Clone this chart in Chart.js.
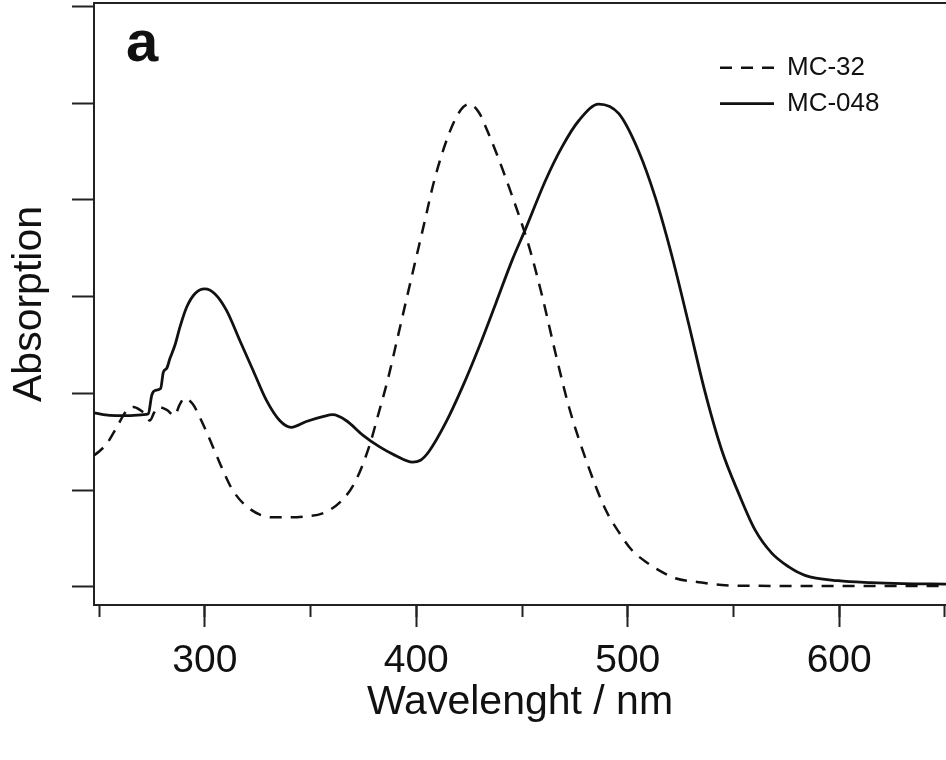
<!DOCTYPE html>
<html>
<head>
<meta charset="utf-8">
<script src="https://cdn.jsdelivr.net/npm/chart.js@4.4.1/dist/chart.umd.min.js"></script>
<style>
  html, body { margin: 0; padding: 0; background: #fff; }
  #wrap { width: 946px; height: 760px; }
</style>
</head>
<body>
<div id="wrap"><canvas id="absChart"></canvas></div>
<script>
// spectra (wavelength in nm, absorption in tick units)
var mc32Wl = [247.6, 250, 253.6, 258.3, 263, 266.2, 269.3, 272, 274, 276, 278, 282, 285.7, 288, 290.4, 294.3,
  299, 303.8, 308.5, 313.2, 321.1, 332.1, 340, 347.8, 355.7, 365.1, 371.4, 377.7, 382.5, 386.5, 391.2, 398.2,
  403.8, 408.5, 415.6, 421.1, 425, 429.7, 433.5, 437.6, 444.7, 453.3, 459.6, 465.9, 472.2, 480.8, 489.5, 496, 502,
  509.9, 514.6, 522.5, 533.5, 544.5, 560, 590, 650.5];
var mc32Abs = [1.36, 1.40, 1.48, 1.65, 1.82, 1.86, 1.83, 1.78, 1.72, 1.80, 1.86, 1.83, 1.77, 1.88, 1.95, 1.89,
  1.69, 1.45, 1.21, 1.00, 0.81, 0.72, 0.72, 0.73, 0.76, 0.90, 1.10, 1.45, 1.82, 2.14, 2.58, 3.24,
  3.76, 4.20, 4.69, 4.93, 4.99, 4.90, 4.72, 4.50, 4.08, 3.52, 3.00, 2.41, 1.86, 1.28, 0.80, 0.56, 0.38,
  0.24, 0.175, 0.09, 0.05, 0.02, 0.012, 0.01, 0.01];

var mc048Wl = [247.6, 252, 258, 265, 271, 273.3, 274.9, 276.4, 279.1, 280.4, 282, 283.5, 285.9, 288.3, 291.4, 295.3,
  300, 304.7, 310.2, 316.5, 322.8, 329.1, 335.4, 340.9, 348, 355.8, 360.5, 366.8, 374.7, 382.5, 390, 398.2,
  402, 406, 414, 421.9, 429.7, 437.6, 445.4, 451.7, 461.1, 469, 476.9, 486.3, 495.8, 505.2, 513.1,
  520.9, 528.8, 536.6, 544.5, 552.4, 560.2, 568.1, 576, 583.8, 599.5, 615, 630, 650.5];
var mc048Abs = [1.80, 1.78, 1.77, 1.77, 1.78, 1.79, 1.98, 2.03, 2.05, 2.22, 2.26, 2.36, 2.50, 2.69, 2.89, 3.03,
  3.08, 3.03, 2.86, 2.55, 2.24, 1.93, 1.72, 1.65, 1.71, 1.76, 1.78, 1.72, 1.57, 1.45, 1.36, 1.29,
  1.31, 1.40, 1.70, 2.07, 2.48, 2.93, 3.38, 3.70, 4.20, 4.55, 4.82, 4.99, 4.89, 4.50, 4.02,
  3.42, 2.72, 2.01, 1.41, 0.97, 0.59, 0.35, 0.21, 0.12, 0.065, 0.045, 0.035, 0.03];

var xMajorTicks = [300, 400, 500, 600];
var xMinorTicks = [250, 300, 350, 400, 450, 500, 550, 600, 650];
var yTicks = [0, 1, 2, 3, 4, 5, 6];

var X_MIN = 247.6, X_MAX = 650.5;
var Y_MIN = -0.186, Y_MAX = 6.034;

var FONT = '"Liberation Sans", Arial, Helvetica, sans-serif';
var INK = '#111';
var AXIS = '#222';

function toPoints(xs, ys) {
    return xs.map(function (x, i) { return { x: x, y: ys[i] }; });
}

function fixedTicks(list) {
    return function (scale) {
        scale.ticks = list.map(function (v) { return { value: v }; });
    };
}

// legend sits inside the plot, top right
var placeLegend = {
    id: 'placeLegend',
    afterLayout: function (chart) {
        if (chart.legend) {
            chart.legend.left = 710;
            chart.legend.top = 44.7;
        }
    }
};

// top frame line and the panel letter
var frameAndLetter = {
    id: 'frameAndLetter',
    afterDraw: function (chart) {
        var c = chart.ctx, a = chart.chartArea;
        c.save();
        c.strokeStyle = AXIS;
        c.lineWidth = 2;
        c.beginPath();
        c.moveTo(a.left - 1, a.top);
        c.lineTo(a.right, a.top);
        c.stroke();
        c.fillStyle = INK;
        c.font = 'bold 58px ' + FONT;
        c.textBaseline = 'alphabetic';
        c.fillText('a', 126, 61);
        c.restore();
    }
};

var ctx = document.getElementById('absChart').getContext('2d');
var chart = new Chart(ctx, {
    type: 'line',
    data: {
        datasets: [{
            label: 'MC-32',
            data: toPoints(mc32Wl, mc32Abs),
            borderColor: INK,
            borderWidth: 2.5,
            borderDash: [12, 9],
            pointRadius: 0,
            fill: false,
            cubicInterpolationMode: 'monotone'
        }, {
            label: 'MC-048',
            data: toPoints(mc048Wl, mc048Abs),
            borderColor: INK,
            borderWidth: 2.8,
            pointRadius: 0,
            fill: false,
            cubicInterpolationMode: 'monotone'
        }]
    },
    options: {
        responsive: true,
        maintainAspectRatio: false,
        animation: false,
        layout: { padding: { top: 3, right: 0, bottom: 0, left: 0 } },
        plugins: {
            tooltip: { enabled: false },
            legend: {
                position: 'chartArea',
                align: 'start',
                labels: {
                    usePointStyle: true,
                    pointStyle: 'line',
                    pointStyleWidth: 54,
                    boxHeight: 26,
                    padding: 10,
                    color: INK,
                    font: { family: FONT, size: 26 },
                    // keep the dataset's dash and width for the sample line
                    generateLabels: function (chart) {
                        var items = Chart.defaults.plugins.legend.labels.generateLabels(chart);
                        items.forEach(function (item) {
                            var ds = chart.data.datasets[item.datasetIndex];
                            item.lineDash = ds.borderDash || [];
                            item.lineWidth = ds.borderWidth;
                            item.strokeStyle = ds.borderColor;
                        });
                        return items;
                    }
                }
            }
        },
        scales: {
            x: {
                type: 'linear',
                min: X_MIN,
                max: X_MAX,
                afterBuildTicks: fixedTicks(xMajorTicks),
                afterFit: function (scale) { scale.height = 155; },
                grid: {
                    drawOnChartArea: false,
                    tickLength: 22,
                    tickWidth: 2,
                    tickColor: AXIS
                },
                border: { color: AXIS, width: 2 },
                ticks: {
                    autoSkip: false,
                    maxRotation: 0,
                    padding: 11,
                    color: INK,
                    font: { family: FONT, size: 39 }
                },
                title: {
                    display: true,
                    text: 'Wavelenght / nm',
                    color: INK,
                    font: { family: FONT, size: 41 },
                    padding: { top: 0, bottom: 33 }
                }
            },
            // short minor marks along the same bottom edge
            xMinor: {
                type: 'linear',
                axis: 'x',
                position: { y: Y_MIN },
                min: X_MIN,
                max: X_MAX,
                afterBuildTicks: fixedTicks(xMinorTicks),
                grid: {
                    drawOnChartArea: false,
                    tickLength: 12,
                    tickWidth: 2,
                    tickColor: AXIS
                },
                border: { display: false },
                ticks: { display: false }
            },
            y: {
                min: Y_MIN,
                max: Y_MAX,
                afterBuildTicks: fixedTicks(yTicks),
                afterFit: function (scale) { scale.width = 94; },
                grid: {
                    drawOnChartArea: false,
                    tickLength: 22,
                    tickWidth: 2,
                    tickColor: AXIS
                },
                border: { color: AXIS, width: 2 },
                ticks: { display: false },
                title: {
                    display: true,
                    text: 'Absorption',
                    color: INK,
                    font: { family: FONT, size: 41 },
                    padding: { top: 5, bottom: 0 }
                }
            }
        }
    },
    plugins: [placeLegend, frameAndLetter]
});
</script>
</body>
</html>
